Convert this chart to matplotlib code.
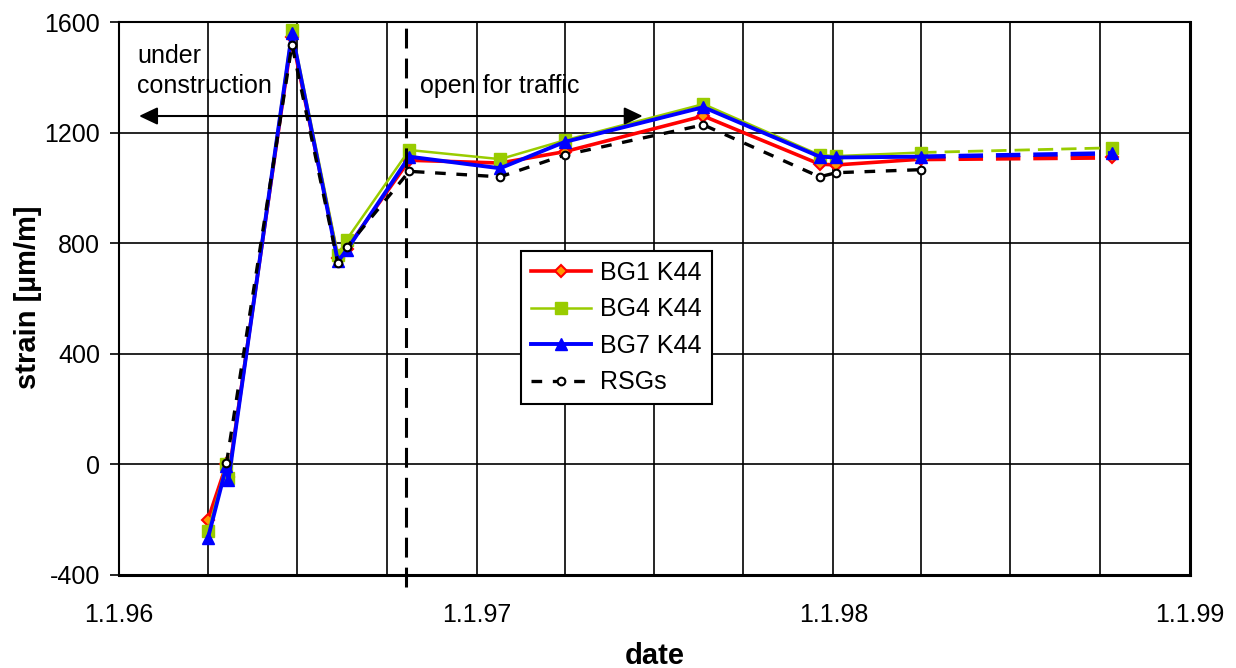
import matplotlib
matplotlib.use("Agg")
import matplotlib.pyplot as plt
import matplotlib.dates as mdates
import matplotlib.ticker as mticker
import datetime as dt

plt.rcParams['font.family'] = ['Liberation Sans', 'DejaVu Sans']
plt.rcParams['axes.unicode_minus'] = False

# Données
dates_bg = ["1996-04-01", "1996-04-20", "1996-04-22", "1996-06-26", "1996-08-12",
            "1996-08-21", "1996-10-24", "1997-01-25", "1997-04-01", "1997-08-21",
            "1997-12-18", "1998-01-04", "1998-04-01", "1998-10-13"]
bg1 = [-200, 0, -45, 1545, 745, 780, 1100, 1090, 1131, 1260, 1086, 1083, 1104, 1110]
bg4 = [-241, 0, -50, 1572, 758, 813, 1137, 1104, 1172, 1303, 1119, 1115, 1128, 1145]
bg7 = [-267, -5, -57, 1561, 734, 775, 1113, 1071, 1166, 1292, 1113, 1110, 1113, 1125]

dates_rsg = ["1996-04-20", "1996-06-26", "1996-08-12", "1996-08-21", "1996-10-24",
             "1997-01-25", "1997-04-01", "1997-08-21", "1997-12-18", "1998-01-04",
             "1998-04-01"]
rsg = [4, 1518, 728, 785, 1060, 1040, 1119, 1228, 1040, 1055, 1066]

date_ouverture = "1996-10-21"
yticks = [-400, 0, 400, 800, 1200, 1600]

to_d = lambda s: dt.datetime.strptime(s, "%Y-%m-%d")
x_bg = [to_d(s) for s in dates_bg]
x_rsg = [to_d(s) for s in dates_rsg]

fig = plt.figure(figsize=(12.36, 6.68), dpi=100)
ax = fig.add_axes([119/1236, 1-575/668, (1190-119)/1236, (575-22)/668])

series = [
    ("BG1 K44", bg1, "#FF0000", dict(marker="D", ms=6.5, mfc="#FF9900", mec="#FF0000", mew=1.5), 2.6, 3.2),
    ("BG4 K44", bg4, "#99CC00", dict(marker="s", ms=8, mfc="#99CC00", mec="#99CC00"), 1.8, 2.0),
    ("BG7 K44", bg7, "#0000FF", dict(marker="^", ms=9, mfc="#0000FF", mec="#0000FF"), 2.8, 3.2),
]
for name, vals, col, mk, lw, lw_dash in series:
    # partie mesurée (trait plein) + dernier segment en tirets
    ax.plot(x_bg[:-1], vals[:-1], color=col, lw=lw, label=name, zorder=3, **mk)
    ax.plot(x_bg[-2:], vals[-2:], color=col, lw=lw_dash, dashes=(5.5, 2.9), zorder=3)
    ax.plot(x_bg[-1:], vals[-1:], color=col, lw=0, zorder=3, **mk)

ax.plot(x_rsg, rsg, color="black", lw=2.4, dashes=(3.2, 3.2), marker="o", ms=5.5,
        mfc="white", mec="black", mew=1.5, label="RSGs", zorder=4)

# ligne verticale : ouverture au trafic
xo = to_d(date_ouverture)
ax.plot([xo, xo], [-445, 1600], color="black", lw=2.2, dashes=(6.5, 3.3),
        clip_on=False, zorder=4)

# textes et flèche
ax.text(0.0168, 0.925, "under", transform=ax.transAxes, fontsize=18, va="baseline")
ax.text(0.0168, 0.872, "construction", transform=ax.transAxes, fontsize=18, va="baseline")
ax.text(0.2806, 0.872, "open for traffic", transform=ax.transAxes, fontsize=18, va="baseline")
ax.annotate("", xy=(0.0187, 0.830), xytext=(0.489, 0.830), xycoords="axes fraction",
            arrowprops=dict(arrowstyle="<|-|>,head_length=0.8,head_width=0.38",
                            mutation_scale=14, lw=1.5, color="black",
                            shrinkA=0, shrinkB=0))

# axes
ax.set_xlim(dt.datetime(1996, 1, 1), dt.datetime(1999, 1, 1))
ax.set_ylim(-400, 1600)
ax.set_yticks(yticks)
ax.xaxis.set_major_locator(mdates.MonthLocator(bymonth=[1, 4, 7, 10]))
ax.xaxis.set_major_formatter(mticker.FuncFormatter(
    lambda v, p: (lambda d: f"{d.day}.{d.month}.{d:%y}" if d.month == 1 else "")(mdates.num2date(v))))
ax.tick_params(axis="x", length=0, pad=20, labelsize=18)
ax.tick_params(axis="y", length=6.5, width=1.2, pad=7, labelsize=18)
ax.grid(True, color="black", lw=1.2)
ax.set_axisbelow(True)
for side, w in [("left", 1.5), ("top", 1.5), ("bottom", 2.2), ("right", 2.2)]:
    ax.spines[side].set_linewidth(w)
    ax.spines[side].set_color("black")

fig.text(28/1236, 1-297/668, "strain [µm/m]", rotation=90, ha="center", va="center",
         fontsize=21, fontweight="bold")
fig.text(655/1236, 4/668, "date", ha="center", va="baseline", fontsize=21, fontweight="bold")

leg = ax.legend(loc="upper left", bbox_to_anchor=(0.3754, 0.586), borderaxespad=0,
                fontsize=18, handlelength=2.4, handletextpad=0.36, labelspacing=0.5,
                frameon=True, fancybox=False, framealpha=1, edgecolor="black")
leg.get_frame().set_linewidth(1.5)
leg.set_zorder(6)

fig.savefig("out.png", dpi=100)
